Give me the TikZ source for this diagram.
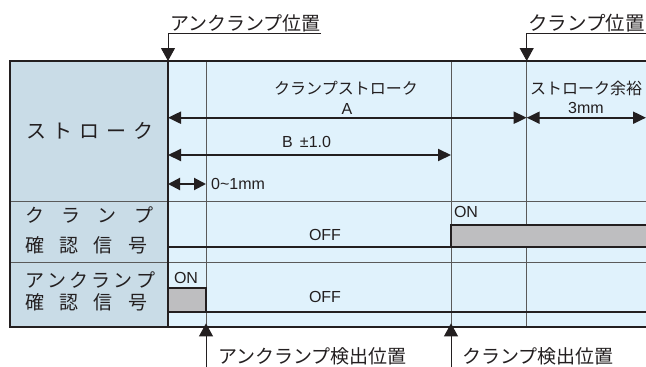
\documentclass[tikz,border=0pt]{standalone}
\usepackage{fontspec}
\setmainfont{Liberation Sans}
\newfontfamily\jpfont{Noto Sans CJK JP}
\usetikzlibrary{arrows.meta}

\definecolor{headblue}{HTML}{C9DCE7}
\definecolor{areablue}{HTML}{E0F2FC}
\definecolor{signalgray}{HTML}{BEBEC0}
\definecolor{linegray}{HTML}{5A5A5A}
\definecolor{inkblack}{HTML}{231F20}

% letter-spaced label: width, text with \hfill between the characters
\newcommand{\spreadjp}[2]{\makebox[#1]{#2}}

\begin{document}
\begin{tikzpicture}[x=1pt,y=-1pt,
  frame/.style={inkblack, line width=2.4pt},
  gridline/.style={linegray, line width=1pt},
  signal/.style={inkblack, line width=2pt},
  dimarrow/.style={inkblack, line width=2pt,
    {Triangle[length=13pt,width=12pt]}-{Triangle[length=13pt,width=12pt]}},
  marker/.style={inkblack, line width=1pt, -{Triangle[length=13pt,width=14pt]}},
  boxtext/.style={inner sep=0pt, text=inkblack, font=\fontsize{16}{16}\selectfont},
  boxjp/.style={boxtext, font=\fontsize{16}{16}\selectfont\jpfont},
  poslabel/.style={inner sep=0pt, anchor=west, text=inkblack, font=\fontsize{19}{19}\selectfont\jpfont},
  rowlabel/.style={inner sep=0pt, anchor=west, text=inkblack, font=\fontsize{19}{19}\selectfont\jpfont}]

\useasboundingbox (0,0) rectangle (646,367);

% Columns at the top and bottom of the frame
\coordinate (left-top) at (10,61);     \coordinate (left-bot) at (10,326.7);
\coordinate (uc-top)   at (168,61);    \coordinate (uc-bot)   at (168,326.7);
\coordinate (ucd-top)  at (206,61);    \coordinate (ucd-bot)  at (206,326.7);
\coordinate (cd-top)   at (451,61);    \coordinate (cd-bot)   at (451,326.7);
\coordinate (c-top)    at (526.7,61);  \coordinate (c-bot)    at (526.7,326.7);
\coordinate (edge-top) at (646,61);    \coordinate (edge-bot) at (646,326.7);

% Heights of the rows, arrows and signals
\coordinate (row1) at (0,201.7);
\coordinate (row2) at (0,262.7);
\coordinate (yA)   at (0,117.7);
\coordinate (yB)   at (0,155);
\coordinate (ygap) at (0,184);
\coordinate (cl-on)  at (0,225);
\coordinate (cl-off) at (0,247.3);
\coordinate (uc-on)  at (0,288);
\coordinate (uc-off) at (0,311.7);

% Backgrounds
\fill[headblue] (left-top) rectangle (uc-bot);
\fill[areablue] (uc-top) rectangle (edge-bot);

% Grid
\foreach \row in {row1, row2}
    \draw[gridline] (left-top |- \row) -- (edge-top |- \row);
\foreach \col in {ucd, cd, c}
    \draw[gridline] (\col-top) -- (\col-bot);

% Clamp signal
\draw[signal] (uc-top |- cl-off) -- (cd-top |- cl-off);
\filldraw[signal, fill=signalgray] (edge-top |- cl-on) -- (cd-top |- cl-on)
    -- (cd-top |- cl-off) -- (edge-top |- cl-off);

% Unclamp signal
\filldraw[signal, fill=signalgray] (uc-top |- uc-on) rectangle (ucd-top |- uc-off);
\draw[signal] (ucd-top |- uc-off) -- (edge-top |- uc-off);

% Frame
\draw[frame] (edge-top) -- (left-top) -- (left-bot) -- (edge-bot);
\draw[inkblack, line width=2pt] (uc-top) -- (uc-bot);

% Stroke dimensions
\draw[dimarrow] (uc-top |- yA) -- (c-top |- yA);
\draw[dimarrow] (c-top |- yA) -- (edge-top |- yA);
\draw[dimarrow] (uc-top |- yB) -- (cd-top |- yB);
\draw[dimarrow, {Triangle[length=12pt,width=12pt]}-{Triangle[length=12pt,width=12pt]}]
    (uc-top |- ygap) -- (ucd-top |- ygap);

\node[boxjp] (strokeA) at (346,88) {クランプストローク};
\node[boxtext] (labA) at (347,109) {A};
\node[boxjp] (margin) at (586,88) {ストローク余裕};
\node[boxtext] (lab3) at (586,108) {3mm};
\node[boxtext, anchor=west] (labB) at (282,142) {B \,±1.0};
\node[boxtext, anchor=west] (labgap) at (211,184) {0\textasciitilde 1mm};

% Signal states
\node[boxtext] (cloff) at (325,235) {OFF};
\node[boxtext] (clon) at (466,212) {ON};
\node[boxtext] (ucon) at (186,278) {ON};
\node[boxtext] (ucoff) at (325,297) {OFF};

% Row labels
\node[rowlabel, font=\fontsize{20}{20}\selectfont\jpfont] (rstroke) at (26,130.5)
    {\spreadjp{127pt}{ス\hfill ト\hfill ロ\hfill ー\hfill ク}};
\node[rowlabel] (rclamp) at (25,215.5)
    {\spreadjp{128pt}{ク\hfill ラ\hfill ン\hfill プ}};
\node[rowlabel] (rclampsig) at (25,245)
    {\spreadjp{122pt}{確\hfill 認\hfill 信\hfill 号}};
\node[rowlabel] (runclamp) at (25,280)
    {\spreadjp{130pt}{ア\hfill ン\hfill ク\hfill ラ\hfill ン\hfill プ}};
\node[rowlabel] (runclampsig) at (25,302)
    {\spreadjp{122pt}{確\hfill 認\hfill 信\hfill 号}};

% Position markers above
\coordinate (ucmark) at (168,33);
\coordinate (cmark) at (526.7,33);
\node[poslabel] (ucpos) at (170,23) {アンクランプ位置};
\node[poslabel, font=\fontsize{19.5}{19.5}\selectfont\jpfont] (cpos) at (528,23) {クランプ位置};
\draw[marker] (ucpos.east |- ucmark) -- (ucmark) -- (uc-top);
\draw[marker] (edge-top |- cmark) -- (cmark) -- (c-top);

% Detection markers below
\coordinate (ucdet) at (206,367);
\coordinate (cdet) at (451,367);
\draw[marker] (ucdet) -- ([yshift=3.3pt]ucd-bot);
\draw[marker] (cdet) -- ([yshift=3.3pt]cd-bot);
\node[poslabel] (ucdetlabel) at (218,356) {アンクランプ検出位置};
\node[poslabel] (cdetlabel) at (462,356) {クランプ検出位置};

\end{tikzpicture}
\end{document}
